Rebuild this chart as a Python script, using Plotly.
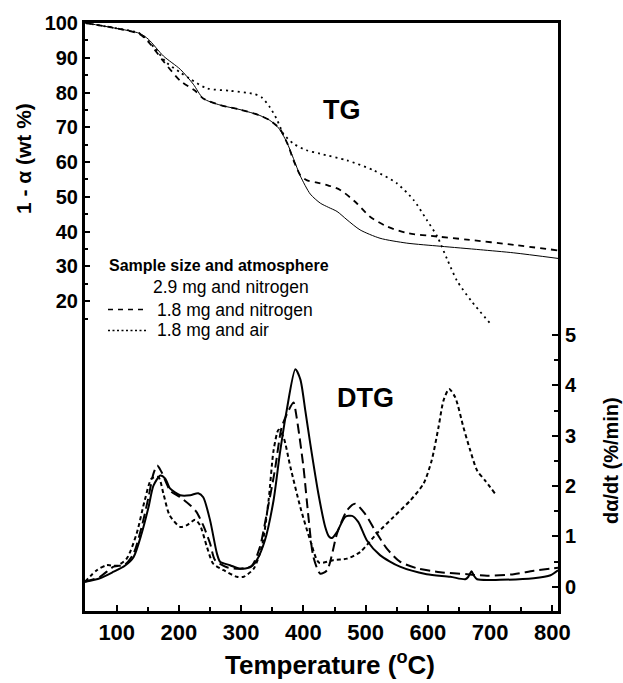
import plotly.graph_objects as go

# ---------------- data ----------------
tg_n29_T = [50, 95, 137, 151, 175, 202, 223, 239, 266, 298, 330, 346, 360, 373, 384, 395, 411, 427,
            440, 454, 470, 491, 523, 566, 620, 684, 738, 809]
tg_n29_v = [100, 98.6, 97, 95.3, 90.5, 86.7, 82.4, 78.3, 76.4, 75.1, 73.4, 72, 69.8, 65.8, 61, 56, 50.8, 48.2,
            47, 45.8, 43.4, 40.5, 38.1, 36.7, 35.8, 34.8, 33.9, 32.3]

tg_n18_T = [50, 95, 137, 154, 175, 202, 226, 239, 266, 298, 330, 346, 362, 375, 384, 395, 405, 420,
            438, 459, 486, 507, 534, 566, 615, 663, 738, 809]
tg_n18_v = [100, 98.6, 96.8, 93.9, 89, 83.4, 80.5, 78.3, 76.4, 75.1, 73.4, 72, 69.6, 65, 60.5, 56.2, 54.8, 54.2,
            53.4, 52, 48.1, 44.3, 41.5, 39.6, 38.6, 37.7, 36.2, 34.6]

tg_air_T = [50, 95, 137, 160, 180, 202, 218, 245, 282, 320, 333, 346, 357, 368, 384, 405, 427, 470,
            513, 550, 577, 598, 615, 631, 647, 670, 701]
tg_air_v = [100, 98.6, 97, 93, 88.6, 85.8, 83.9, 81.2, 80.5, 79.6, 78.6, 75.8, 72.4, 68.1, 65.3, 63.4, 62.4, 60.5,
            57.6, 53.9, 49.1, 43.4, 38.6, 32, 25.8, 20, 13.4]

dtg_n29_T = [49, 73, 95, 113, 127, 140, 151, 159, 170, 178, 186, 202, 218, 231, 239, 250, 261, 266,
             282, 298, 315, 325, 338, 352, 362, 373, 387, 395, 403, 411, 424, 435, 441, 446, 454,
             467, 478, 488, 502, 523, 555, 598, 636, 660, 665, 670, 674, 679, 716, 770, 797, 809]
dtg_n29_v = [0.1, 0.17, 0.3, 0.42, 0.59, 1.06, 1.58, 2.01, 2.21, 2.15, 1.95, 1.82, 1.82, 1.86, 1.78, 1.32, 0.66, 0.5,
             0.43, 0.36, 0.39, 0.53, 0.92, 1.72, 2.64, 3.5, 4.32, 4.12, 3.5, 2.84, 1.85, 1.19, 1.0, 0.97, 1.09,
             1.39, 1.41, 1.29, 0.92, 0.63, 0.4, 0.25, 0.2, 0.15, 0.2, 0.31, 0.22, 0.15, 0.14, 0.17, 0.23, 0.33]

dtg_n18_T = [49, 73, 95, 113, 127, 140, 151, 159, 165, 172, 186, 202, 218, 228, 239, 250, 258, 277,
             298, 317, 330, 341, 354, 365, 376, 384, 389, 400, 408, 416, 427, 438, 454, 470, 483,
             499, 515, 534, 555, 582, 620, 663, 695, 738, 770, 809]
dtg_n18_v = [0.1, 0.2, 0.4, 0.44, 0.66, 1.19, 1.78, 2.25, 2.41, 2.28, 1.91, 1.78, 1.62, 1.49, 1.22, 0.86, 0.53, 0.39,
             0.36, 0.42, 0.79, 1.45, 2.31, 3.17, 3.5, 3.66, 3.37, 2.38, 1.39, 0.59, 0.26, 0.33, 1.06, 1.52, 1.65,
             1.45, 1.12, 0.76, 0.5, 0.37, 0.29, 0.25, 0.22, 0.25, 0.32, 0.38]

dtg_air_T = [49, 68, 84, 100, 116, 132, 145, 156, 167, 175, 185, 202, 212, 226, 234, 245, 255, 272,
             293, 304, 320, 333, 344, 352, 360, 368, 379, 395, 411, 425, 448, 470, 491, 518, 545,
             572, 593, 606, 617, 625, 634, 644, 657, 668, 679, 692, 708]
dtg_air_v = [0.1, 0.33, 0.43, 0.42, 0.56, 1.06, 1.72, 2.15, 2.18, 1.85, 1.42, 1.19, 1.22, 1.33, 1.22, 0.79, 0.46, 0.33,
             0.2, 0.2, 0.36, 0.79, 1.72, 2.71, 3.12, 2.97, 2.38, 1.58, 0.92, 0.48, 0.53, 0.56, 0.69, 1.06, 1.39,
             1.72, 2.05, 2.51, 3.17, 3.7, 3.93, 3.76, 3.17, 2.71, 2.31, 2.11, 1.85]

x_ticks = [100, 200, 300, 400, 500, 600, 700, 800]
x_minor = [150, 250, 350, 450, 550, 650, 750]
tg_ticks = [20, 30, 40, 50, 60, 70, 80, 90, 100]
tg_minor = [15, 25, 35, 45, 55, 65, 75, 85, 95]
dtg_ticks = [0, 1, 2, 3, 4, 5]
dtg_minor = [0.5, 1.5, 2.5, 3.5, 4.5]

legend_title = "Sample size and atmosphere"
legend_labels = ["2.9 mg and nitrogen", "1.8 mg and nitrogen", "1.8 mg and air"]

# ---------------- layout geometry ----------------
W, H = 623, 683
L, R, T, B = 85, 65, 19, 72
PW, PH = W - L - R, H - T - B


def px(xp):
    return (xp - L) / PW


def py(yp):
    return (H - B - yp) / PH


FONT = "Arial, 'Liberation Sans', Helvetica, sans-serif"
BLK = "black"

fig = go.Figure()

spl = dict(shape="spline", smoothing=0.7)

fig.add_trace(go.Scatter(x=tg_n29_T, y=tg_n29_v, mode="lines", line=dict(color=BLK, width=1, **spl), yaxis="y"))
fig.add_trace(go.Scatter(x=tg_n18_T, y=tg_n18_v, mode="lines", line=dict(color=BLK, width=1.8, dash="6px,5px", **spl), yaxis="y"))
fig.add_trace(go.Scatter(x=tg_air_T, y=tg_air_v, mode="lines", line=dict(color=BLK, width=1.8, dash="2px,4px", **spl), yaxis="y"))

fig.add_trace(go.Scatter(x=dtg_n29_T, y=dtg_n29_v, mode="lines", line=dict(color=BLK, width=2, **spl), yaxis="y2"))
fig.add_trace(go.Scatter(x=dtg_n18_T, y=dtg_n18_v, mode="lines", line=dict(color=BLK, width=2, dash="10px,5px", **spl), yaxis="y2"))
fig.add_trace(go.Scatter(x=dtg_air_T, y=dtg_air_v, mode="lines", line=dict(color=BLK, width=2, dash="4px,3px", **spl), yaxis="y2"))

tickfont_x = dict(family=FONT, size=22, color=BLK, weight="bold")
tickfont_y = dict(family=FONT, size=20, color=BLK, weight="bold")

fig.update_layout(
    width=W, height=H,
    margin=dict(l=L, r=R, t=T, b=B, pad=0),
    paper_bgcolor="white", plot_bgcolor="white",
    showlegend=False,
    font=dict(family=FONT, color=BLK),
    xaxis=dict(
        range=[49, 809], tickmode="array", tickvals=x_ticks, ticks="inside", ticklen=6, tickwidth=2,
        tickcolor=BLK, showline=True, linecolor=BLK, linewidth=3, mirror=True, showgrid=False, zeroline=False,
        tickfont=tickfont_x,
        minor=dict(tickmode="array", tickvals=x_minor, ticks="inside", ticklen=4, tickwidth=2, tickcolor=BLK),
    ),
    yaxis=dict(
        range=[-69.1, 100], tickmode="array", tickvals=tg_ticks, ticks="inside", ticklen=5, tickwidth=2,
        tickcolor=BLK, showline=True, linecolor=BLK, linewidth=3, showgrid=False, zeroline=False,
        tickfont=tickfont_y,
        minor=dict(tickmode="array", tickvals=tg_minor, ticks="inside", ticklen=3, tickwidth=2, tickcolor=BLK),
    ),
    yaxis2=dict(
        range=[-0.48, 11.2], overlaying="y", side="right", tickmode="array", tickvals=dtg_ticks,
        ticks="inside", ticklen=6, tickwidth=2, tickcolor=BLK, showline=True, linecolor=BLK, linewidth=3,
        showgrid=False, zeroline=False, tickfont=dict(family=FONT, size=20, color=BLK, weight="bold"),
        minor=dict(tickmode="array", tickvals=dtg_minor, ticks="inside", ticklen=4, tickwidth=2, tickcolor=BLK),
    ),
)

ann = []
# axis titles
ann.append(dict(text="Temperature (<sup>o</sup>C)", xref="paper", yref="paper", x=px(330), y=py(664),
                xanchor="center", yanchor="middle", showarrow=False,
                font=dict(family=FONT, size=26, color=BLK, weight="bold")))
ann.append(dict(text="1 - α (wt %)", xref="paper", yref="paper", x=px(23), y=py(155),
                xanchor="center", yanchor="middle", showarrow=False, textangle=-90,
                font=dict(family=FONT, size=21, color=BLK, weight="bold")))
ann.append(dict(text="dα/dt (%/min)", xref="paper", yref="paper", x=px(611), y=py(460),
                xanchor="center", yanchor="middle", showarrow=False, textangle=-90,
                font=dict(family=FONT, size=20, color=BLK, weight="bold")))
# panel labels
ann.append(dict(text="TG", xref="paper", yref="paper", x=px(342), y=py(107), xanchor="center", yanchor="middle",
                showarrow=False, font=dict(family=FONT, size=27, color=BLK, weight="bold")))
ann.append(dict(text="DTG", xref="paper", yref="paper", x=px(365), y=py(397), xanchor="center", yanchor="middle",
                showarrow=False, font=dict(family=FONT, size=27, color=BLK, weight="bold")))
# legend
ann.append(dict(text=legend_title, xref="paper", yref="paper", x=px(107), y=py(263), xanchor="left", yanchor="middle",
                showarrow=False, font=dict(family=FONT, size=16, color=BLK, weight="bold")))
leg_rows = [(151, 285), (155, 307.5), (155, 328.5)]
for lab, (lx, ly) in zip(legend_labels, leg_rows):
    ann.append(dict(text=lab, xref="paper", yref="paper", x=px(lx), y=py(ly), xanchor="left", yanchor="middle",
                    showarrow=False, font=dict(family=FONT, size=17.5, color=BLK)))
fig.update_layout(annotations=ann)

fig.add_shape(type="line", xref="paper", yref="paper", x0=px(108), x1=px(145), y0=py(307.5), y1=py(307.5),
              line=dict(color=BLK, width=1.5, dash="5px,5px"))
fig.add_shape(type="line", xref="paper", yref="paper", x0=px(108), x1=px(147), y0=py(328.5), y1=py(328.5),
              line=dict(color=BLK, width=1.5, dash="2px,2.5px"))

fig.write_html("out.html", config={"displayModeBar": False},
               post_script="document.body.style.margin='0';document.body.style.padding='0';")
